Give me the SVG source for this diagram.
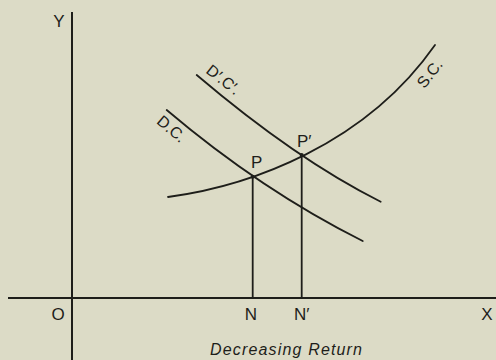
<svg xmlns="http://www.w3.org/2000/svg" width="496" height="360" viewBox="0 0 496 360">
<style>
.ln{fill:none;stroke:#1e1e1a;stroke-width:1.8;stroke-linecap:round}
.ax{fill:none;stroke:#1e1e1a;stroke-width:2}
.t{font-family:"Liberation Sans",Arial,sans-serif;font-size:17px;fill:#1e1e1a}
.s{font-family:"Liberation Sans",Arial,sans-serif;font-size:16px;fill:#1e1e1a}
.cap{font-family:"Liberation Sans",Arial,sans-serif;font-size:16px;font-style:italic;fill:#1e1e1a}
</style>
<rect width="496" height="360" fill="#dcdbc6"/>
<g id="axes">
<line class="ax" x1="72" y1="12" x2="72" y2="360"/>
<line class="ax" x1="8" y1="298" x2="496" y2="298"/>
<text class="t" x="59" y="27" text-anchor="middle">Y</text>
<text class="t" x="58" y="320" text-anchor="middle">O</text>
<text class="t" x="487" y="320" text-anchor="middle">X</text>
</g>
<g id="connectors">
<path class="ln" d="M168,197 C250,186 365,145 435,45"/>
<path class="ln" d="M166.7,110 Q261,190 362.7,241"/>
<path class="ln" d="M196.7,75 Q295.9,159.3 380.7,201.7"/>
<line class="ln" x1="252.7" y1="176.7" x2="252.7" y2="298"/>
<line class="ln" x1="301.7" y1="155" x2="301.7" y2="298"/>
</g>
<g id="P">
<circle cx="252.7" cy="176.7" r="2" fill="#1e1e1a"/>
<text class="t" x="251" y="168">P</text>
</g>
<g id="Pp">
<circle cx="301.7" cy="155" r="2" fill="#1e1e1a"/>
<text class="t" x="297" y="147">P′</text>
</g>
<g id="N"><text class="t" x="251" y="320" text-anchor="middle">N</text></g>
<g id="Np"><text class="t" x="294" y="320">N′</text></g>
<g id="DC"><text class="s" text-anchor="middle" transform="translate(168,133) rotate(40)">D.C.</text></g>
<g id="DpCp"><text class="s" text-anchor="middle" transform="translate(220,84) rotate(38)">D′.C′.</text></g>
<g id="SC"><text class="s" text-anchor="middle" transform="translate(434,77) rotate(-52)">S.C.</text></g>
<g id="caption"><text class="cap" x="210" y="355" textLength="152" lengthAdjust="spacing">Decreasing Return</text></g>
</svg>
